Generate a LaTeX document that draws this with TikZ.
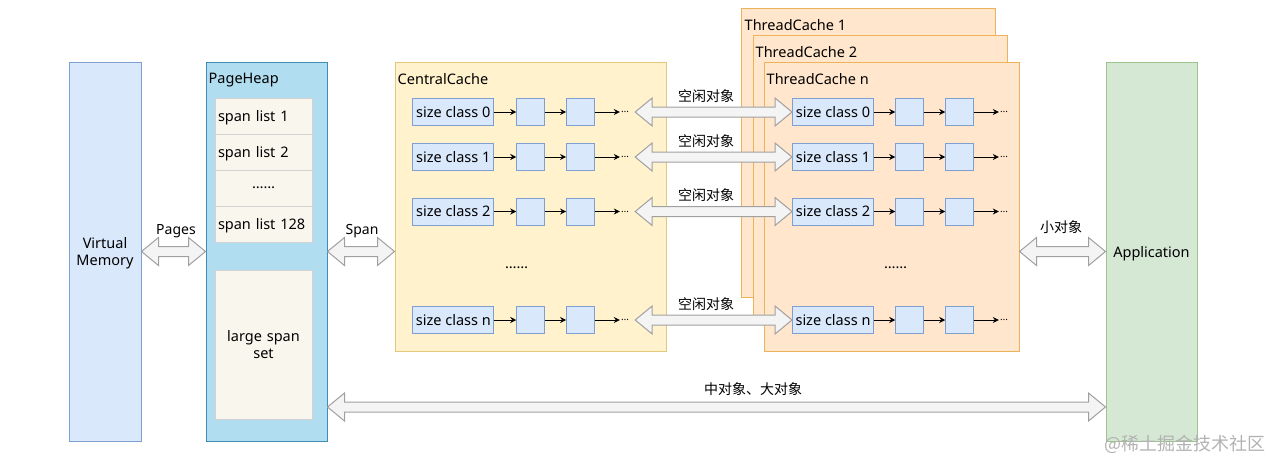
\documentclass[tikz,border=0pt]{standalone}
\usepackage{fontspec}
\setmainfont{Noto Sans}
\newfontfamily\cjk{Noto Sans CJK SC}
\usetikzlibrary{calc,arrows.meta}

\definecolor{vmfill}{HTML}{DAE8FC}
\definecolor{vmline}{HTML}{7E9FD0}
\definecolor{phfill}{HTML}{B1DDF0}
\definecolor{phline}{HTML}{3E8DB8}
\definecolor{slfill}{HTML}{F9F7ED}
\definecolor{slline}{HTML}{D2D2D2}
\definecolor{ccfill}{HTML}{FFF2CC}
\definecolor{ccline}{HTML}{E2C878}
\definecolor{tcfill}{HTML}{FFE6CC}
\definecolor{tcline}{HTML}{EDB35A}
\definecolor{appfill}{HTML}{D5E8D4}
\definecolor{appline}{HTML}{9DC48C}
\definecolor{arrfill}{HTML}{F4F4F4}
\definecolor{arrline}{HTML}{A0A0A0}

\tikzset{
  panel/.style={draw=#1line, fill=#1fill, line width=1pt, inner sep=0pt, align=center, text depth=0pt},
  title/.style={anchor=west, inner sep=0pt, text depth=0pt, xshift=3pt, yshift=-17pt},
  listbox/.style={draw=slline, fill=slfill, line width=1pt, minimum height=36pt,
    text width=91pt, inner xsep=3pt, inner ysep=0pt, align=left, text depth=0pt},
  sizebox/.style={draw=vmline, fill=vmfill, line width=1pt, minimum width=81pt,
    minimum height=27pt, inner sep=0pt},
  cellbox/.style={draw=vmline, fill=vmfill, line width=1pt, minimum width=27.5pt,
    minimum height=27pt, inner sep=0pt},
  dots/.style={inner sep=1pt, font=\fontsize{10}{10}\selectfont},
  link/.style={-{Stealth[length=6pt,width=6pt]}, line width=1pt},
  lbl/.style={inner sep=0pt, font=\cjk\fontsize{14}{16}\selectfont},
  blockarrow/.style={draw=arrline, fill=arrfill, line width=1pt,
    to path={let \p1=(\tikztostart), \p2=(\tikztotarget) in
      -- (\x1+17pt,\y1+14pt) -- (\x1+17pt,\y1+5pt) -- (\x2-17pt,\y1+5pt)
      -- (\x2-17pt,\y1+14pt) -- (\x2,\y1) -- (\x2-17pt,\y1-14pt)
      -- (\x2-17pt,\y1-5pt) -- (\x1+17pt,\y1-5pt) -- (\x1+17pt,\y1-14pt) -- cycle}}
}

\begin{document}
\begin{tikzpicture}[x=1pt,y=-1pt,font=\fontsize{14.5}{17}\selectfont]
    \useasboundingbox (0,0) rectangle (1282,472);

    \node[panel=vm, minimum width=72pt, minimum height=379pt] (vm) at (105,251.5) {Virtual\\Memory};
    \node[panel=ph, minimum width=121pt, minimum height=379pt,
      label={[title]north west:PageHeap}] (ph) at (266.5,251.5) {};
    \node[listbox] (sl1) at (263.5,116) {span list 1};
    \node[listbox] (sl2) at (263.5,152) {span list 2};
    \node[listbox, align=center] (sl3) at (263.5,188) {……};
    \node[listbox] (sl4) at (263.5,224) {span list 128};
    \node[listbox, align=center, text depth=, minimum height=149pt] (lss) at (263.5,344.5) {large span\\set};

    \node[panel=cc, minimum width=271pt, minimum height=289pt,
      label={[title]north west:CentralCache}] (cc) at (530.5,206.5) {};
    \node[panel=tc, minimum width=254pt, minimum height=289pt,
      label={[title, xshift=1pt]north west:ThreadCache 1}] (tc1) at (868,152.5) {};
    \node[panel=tc, minimum width=254pt, minimum height=289pt,
      label={[title]north west:ThreadCache 2}] (tc2) at (880,179.5) {};
    \node[panel=tc, minimum width=255pt, minimum height=289pt,
      label={[title]north west:ThreadCache n}] (tcn) at (891.5,206.5) {};
    \node[panel=app, minimum width=91pt, minimum height=379pt] (app) at (1151.5,251.5) {Application};

    \foreach \i/\y in {0/112,1/157,2/211.5,n/320} {
        \node[sizebox] (cs\i) at (453.3,\y) {size class \i};
        \node[cellbox] (ca\i) at (530.5,\y) {};
        \node[cellbox] (cb\i) at (580.3,\y) {};
        \node[dots] (cd\i) at (625,\y) {…};
        \draw[link] (cs\i) -- (ca\i);
        \draw[link] (ca\i) -- (cb\i);
        \draw[link] (cb\i) -- (cd\i);
        \node[sizebox] (ts\i) at (833,\y) {size class \i};
        \node[cellbox] (ta\i) at (909.5,\y) {};
        \node[cellbox] (tb\i) at (959.5,\y) {};
        \node[dots] (td\i) at (1004,\y) {…};
        \draw[link] (ts\i) -- (ta\i);
        \draw[link] (ta\i) -- (tb\i);
        \draw[link] (tb\i) -- (td\i);
        \draw[blockarrow] ([xshift=5pt]cd\i.east) to (ts\i.west);
        \node[lbl] at (706,{\y-16}) {空闲对象};
    }
    \node (cgap) at (516.7,268) {……};
    \node (tgap) at (895.7,268) {……};

    \draw[blockarrow] (vm.east) to (ph.west);
    \node[lbl, font=\fontsize{14}{16}\selectfont] at (176,231) {Pages};
    \draw[blockarrow] (ph.east) to (ph.east -| cc.west);
    \node[lbl, font=\fontsize{14}{16}\selectfont] at (362,231) {Span};
    \draw[blockarrow] (tcn.east |- app.west) to (app.west);
    \node[lbl] at (1061,227) {小对象};
    \draw[blockarrow] ([yshift=-155.5pt]ph.east) to ([yshift=-155.5pt]app.west);
    \node[lbl] at (753,389) {中对象、大对象};

    \node[text=black!30, font=\cjk\fontsize{18}{18}\selectfont, anchor=east] (mark) at (1269,444) {@稀土掘金技术社区};
\end{tikzpicture}
\end{document}
